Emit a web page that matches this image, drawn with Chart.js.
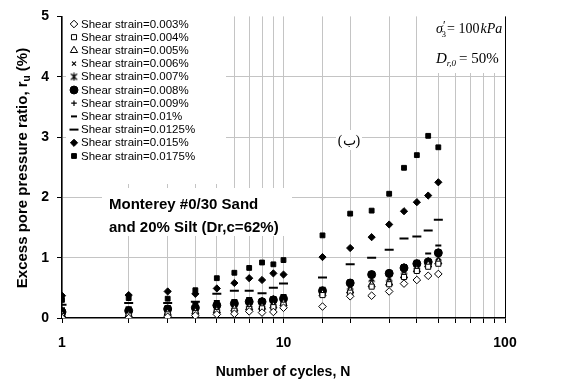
<!DOCTYPE html>
<html>
<head>
<meta charset="utf-8">
<script src="https://cdn.jsdelivr.net/npm/chart.js@4.4.0/dist/chart.umd.min.js"></script>
<style>
  html, body { margin: 0; padding: 0; background: #fff; }
  #wrap { width: 573px; height: 381px; position: relative; }
</style>
</head>
<body>
<div id="wrap"><canvas id="ruChart" width="573" height="381"></canvas></div>
<script>
// number of loading cycles
const cycles = [1, 2, 3, 4, 5, 6, 7, 8, 9, 10, 15, 20, 25, 30, 35, 40, 45, 50];

const strainLabels = ['0.003%', '0.004%', '0.005%', '0.006%', '0.007%', '0.008%',
                      '0.009%', '0.01%', '0.0125%', '0.015%', '0.0175%'];

// excess pore pressure ratio (%) for each shear strain level
const ru003  = [0.00, 0.00, 0.02, 0.04, 0.06, 0.07, 0.11, 0.09, 0.10, 0.17, 0.19, 0.36, 0.37, 0.44, 0.57, 0.63, 0.70, 0.73];
const ru004  = [0.03, 0.04, 0.06, 0.08, 0.10, 0.12, 0.15, 0.16, 0.18, 0.22, 0.38, 0.42, 0.52, 0.56, 0.68, 0.78, 0.85, 0.90];
const ru005  = [0.05, 0.05, 0.08, 0.10, 0.12, 0.15, 0.17, 0.18, 0.20, 0.24, 0.40, 0.45, 0.55, 0.58, 0.70, 0.80, 0.88, 0.93];
const ru006  = [0.06, 0.07, 0.10, 0.12, 0.14, 0.17, 0.20, 0.20, 0.23, 0.26, 0.42, 0.48, 0.60, 0.62, 0.74, 0.83, 0.90, 0.95];
const ru007  = [0.08, 0.09, 0.12, 0.14, 0.17, 0.20, 0.23, 0.23, 0.26, 0.29, 0.44, 0.52, 0.65, 0.66, 0.78, 0.86, 0.91, 1.00];
const ru008  = [0.10, 0.12, 0.15, 0.17, 0.21, 0.24, 0.27, 0.27, 0.30, 0.32, 0.45, 0.58, 0.72, 0.74, 0.83, 0.90, 0.93, 1.08];
const ru009  = [0.13, 0.14, 0.17, 0.19, 0.23, 0.26, 0.29, 0.30, 0.33, 0.35, 0.47, 0.60, 0.74, 0.76, 0.86, 0.92, 0.96, 1.10];
const ru010  = [0.16, 0.18, 0.20, 0.25, 0.28, 0.30, 0.33, 0.31, 0.35, 0.38, 0.50, 0.62, 0.76, 0.78, 0.88, 0.95, 1.07, 1.20];
const ru0125 = [0.22, 0.25, 0.25, 0.27, 0.40, 0.45, 0.45, 0.41, 0.50, 0.57, 0.67, 0.89, 1.00, 1.13, 1.32, 1.35, 1.45, 1.63];
const ru015  = [0.37, 0.38, 0.44, 0.40, 0.49, 0.58, 0.66, 0.63, 0.74, 0.72, 1.01, 1.16, 1.34, 1.55, 1.77, 1.92, 2.03, 2.25];
const ru0175 = [0.30, 0.33, 0.32, 0.46, 0.66, 0.75, 0.83, 0.92, 0.89, 0.96, 1.37, 1.73, 1.78, 2.06, 2.49, 2.70, 3.02, 2.83];

const xTickLabels = [1, 10, 100];
const yTickLabels = [0, 1, 2, 3, 4, 5];

// star marker: an X with a vertical stroke
function starMarker() {
  const c = document.createElement('canvas');
  c.width = 9; c.height = 9;
  const g = c.getContext('2d');
  g.strokeStyle = '#000';
  g.lineWidth = 1.2;
  g.beginPath();
  g.moveTo(1.5, 1.5); g.lineTo(7.5, 7.5);
  g.moveTo(7.5, 1.5); g.lineTo(1.5, 7.5);
  g.moveTo(4.5, 0.5); g.lineTo(4.5, 8.5);
  g.stroke();
  return c;
}

const markers = [
  { style: 'rectRot',  r: 3.8, fill: '#fff', bw: 1 },
  { style: 'rect',     r: 3.6, fill: '#fff', bw: 1 },
  { style: 'triangle', r: 4.2, fill: '#fff', bw: 1 },
  { style: 'crossRot', r: 2.8, fill: '#000', bw: 1.2 },
  { style: starMarker(), r: 4, fill: '#000', bw: 1 },
  { style: 'circle',   r: 4,   fill: '#000', bw: 1 },
  { style: 'cross',    r: 2.8, fill: '#000', bw: 1.2 },
  { style: 'line',     r: 3,   fill: '#000', bw: 2 },
  { style: 'line',     r: 4.5, fill: '#000', bw: 2 },
  { style: 'rectRot',  r: 3.6, fill: '#000', bw: 1 },
  { style: 'rect',     r: 3.4, fill: '#000', bw: 1 }
];

const seriesValues = [ru003, ru004, ru005, ru006, ru007, ru008, ru009, ru010, ru0125, ru015, ru0175];

const datasets = seriesValues.map((vals, i) => ({
  label: 'Shear strain=' + strainLabels[i],
  data: cycles.map((n, k) => ({ x: n, y: vals[k] })),
  showLine: false,
  pointStyle: markers[i].style,
  pointRadius: markers[i].r,
  pointHoverRadius: markers[i].r,
  backgroundColor: markers[i].fill,
  borderColor: '#000',
  borderWidth: markers[i].bw
}));

const gridGray = '#c4c4c4';
const sans = '"Liberation Sans", Arial, sans-serif';
const serif = '"Liberation Serif", "Times New Roman", serif';

// legend, text boxes and axis titles
const annotations = {
  id: 'annotations',
  beforeDatasetsDraw(chart) {
    const ctx = chart.ctx;
    ctx.save();
    ctx.fillStyle = '#fff';
    ctx.fillRect(66, 14, 160, 170);     // legend box
    ctx.fillRect(102, 188, 190, 48);    // soil description
    ctx.fillRect(427, 15, 77, 58);      // test conditions
    ctx.fillRect(336, 130, 26, 20);     // panel tag
    ctx.restore();
  },
  afterDatasetsDraw(chart) {
    const ctx = chart.ctx;
    ctx.save();

    // legend
    chart.data.datasets.forEach((ds, i) => {
      const y = 24 + i * 13.2;
      ctx.fillStyle = ds.backgroundColor;
      ctx.strokeStyle = ds.borderColor;
      ctx.lineWidth = ds.borderWidth;
      Chart.helpers.drawPoint(ctx, {
        pointStyle: ds.pointStyle,
        radius: ds.pointRadius,
        borderWidth: ds.borderWidth,
        rotation: 0
      }, 74, y);
      ctx.fillStyle = '#000';
      ctx.font = '11.5px ' + sans;
      ctx.textBaseline = 'middle';
      ctx.textAlign = 'left';
      ctx.fillText(ds.label, 81, y + 0.5);
    });

    // soil description
    ctx.font = 'bold 15px ' + sans;
    ctx.textBaseline = 'alphabetic';
    ctx.fillText('Monterey #0/30 Sand', 109, 209);
    ctx.fillText('and 20% Silt (Dr,c=62%)', 109, 232);

    // panel tag
    ctx.font = '14px ' + serif;
    ctx.textAlign = 'center';
    ctx.fillText('(ب)', 349, 145);

    // confining stress and relative density
    function runs(x, y, parts) {
      ctx.textAlign = 'left';
      parts.forEach(p => {
        ctx.font = p.f;
        ctx.fillText(p.t, x, y + (p.dy || 0));
        x += ctx.measureText(p.t).width + (p.gap || 0);
      });
    }
    runs(436, 33, [
      { t: 'σ', f: 'italic 14px ' + serif },
      { t: '′', f: '12px ' + serif, dy: -4, gap: -4 },
      { t: '3', f: '9px ' + serif, dy: 4, gap: 1 },
      { t: '= 100', f: '14px ' + serif, gap: 1 },
      { t: 'kPa', f: 'italic 14px ' + serif }
    ]);
    runs(436, 63, [
      { t: 'D', f: 'italic 15px ' + serif },
      { t: 'r,0', f: 'italic 9px ' + serif, dy: 3, gap: 3 },
      { t: '= 50%', f: '15px ' + serif }
    ]);

    // axis titles
    ctx.fillStyle = '#000';
    ctx.font = 'bold 14px ' + sans;
    ctx.textAlign = 'center';
    ctx.fillText('Number of cycles, N', 283, 376);

    ctx.translate(27, 168);
    ctx.rotate(-Math.PI / 2);
    const main = 'Excess pore pressure ratio, r';
    const tail = ' (%)';
    ctx.font = 'bold 15px ' + sans;
    const w1 = ctx.measureText(main).width;
    const w3 = ctx.measureText(tail).width;
    ctx.font = 'bold 10px ' + sans;
    const w2 = ctx.measureText('u').width;
    const x0 = -(w1 + w2 + w3) / 2;
    ctx.textAlign = 'left';
    ctx.font = 'bold 15px ' + sans;
    ctx.fillText(main, x0, 0);
    ctx.font = 'bold 10px ' + sans;
    ctx.fillText('u', x0 + w1, 3);
    ctx.font = 'bold 15px ' + sans;
    ctx.fillText(tail, x0 + w1 + w2, 0);

    ctx.restore();
  }
};

new Chart(document.getElementById('ruChart'), {
  type: 'scatter',
  data: { datasets },
  options: {
    responsive: false,
    animation: false,
    events: [],
    layout: { padding: { top: 14, right: 68, left: 0, bottom: 0 } },
    plugins: {
      legend: { display: false },
      tooltip: { enabled: false }
    },
    scales: {
      x: {
        type: 'logarithmic',
        min: 1,
        max: 100,
        afterFit: s => { s.height = 63; },
        border: { color: '#000', width: 1.5 },
        grid: {
          color: c => (c.tick && c.tick.value === 100) ? '#000' : gridGray,
          tickColor: '#000',
          tickLength: 5,
          lineWidth: 1
        },
        ticks: {
          autoSkip: false,
          maxRotation: 0,
          padding: 12,
          color: '#000',
          font: { family: sans, size: 14, weight: 'bold' },
          callback: v => xTickLabels.includes(v) ? String(v) : ''
        }
      },
      y: {
        min: 0,
        max: 5,
        afterFit: s => { s.width = 62; },
        afterBuildTicks: s => { s.ticks = yTickLabels.map(v => ({ value: v })); },
        border: { color: '#000', width: 1.5 },
        grid: {
          color: c => (c.tick && (c.tick.value === 0 || c.tick.value === 5)) ? 'rgba(0,0,0,0)' : gridGray,
          tickColor: '#000',
          tickLength: 5,
          lineWidth: 1
        },
        ticks: {
          padding: 8,
          color: '#000',
          font: { family: sans, size: 14, weight: 'bold' }
        }
      }
    }
  },
  plugins: [annotations]
});
</script>
</body>
</html>
